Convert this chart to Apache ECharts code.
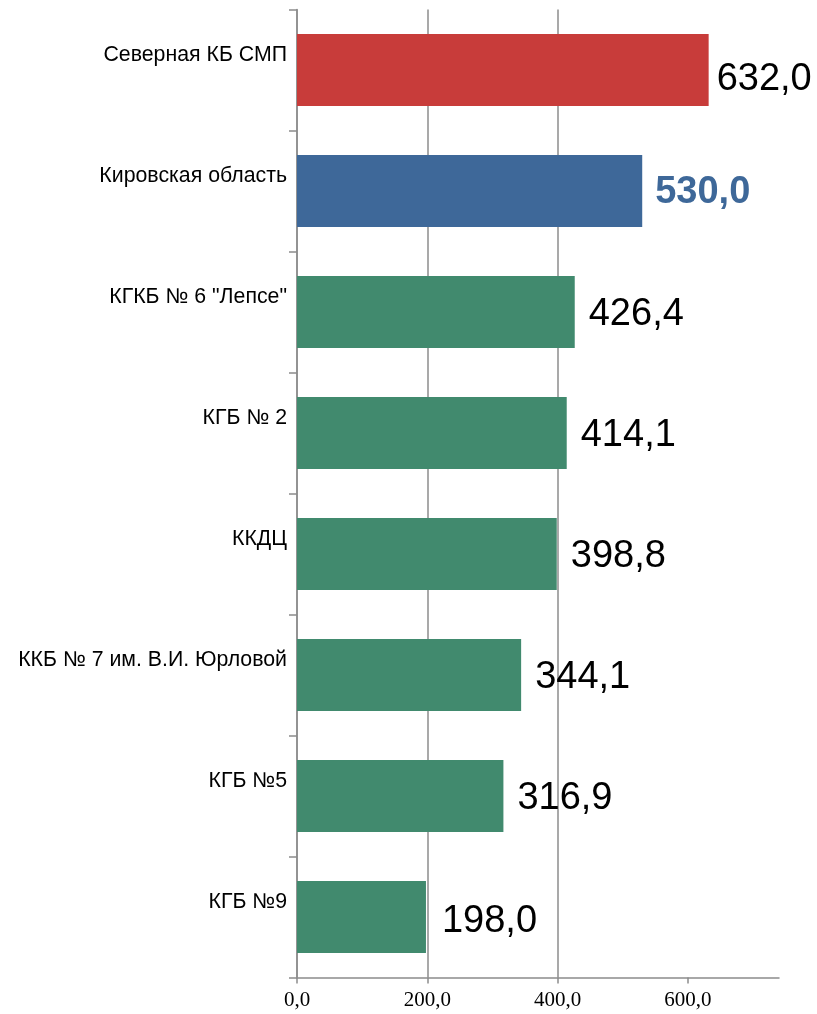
<!DOCTYPE html>
<html><head><meta charset="utf-8">
<script src="https://cdn.jsdelivr.net/npm/echarts@6/dist/echarts.min.js"></script>
<style>html,body{margin:0;padding:0;background:#fff}#c{width:817px;height:1014px}</style>
</head><body><div id="c"></div>
<script>
var categories = ['Северная КБ СМП','Кировская область','КГКБ № 6 "Лепсе"','КГБ № 2','ККДЦ','ККБ № 7 им. В.И. Юрловой','КГБ №5','КГБ №9'];
var values = [632.0, 530.0, 426.4, 414.1, 398.8, 344.1, 316.9, 198.0];
var xTicks = [0, 200, 400, 600];
var colors = ['#C83C3A','#3E6899','#418A6E','#418A6E','#418A6E','#418A6E','#418A6E','#418A6E'];

function fmt(v){ return v.toFixed(1).replace('.', ','); }

var data = values.map(function(v, i){
  var lbl = {color:'#000', fontWeight:'normal', distance: 14, offset: [0, 3]};
  if (i === 0) { lbl.distance = 8; lbl.offset = [0, 10]; }
  if (i === 1) { lbl.color = '#3E6899'; lbl.fontWeight = 'bold'; lbl.distance = 13; lbl.offset = [0, 2]; }
  if (i === 7) { lbl.distance = 16; lbl.offset = [0, 5]; }
  return {value: v, itemStyle: {color: colors[i]}, label: lbl};
});

var chart = echarts.init(document.getElementById('c'));
chart.setOption({
  animation: false,
  grid: {left: 297, right: 38, top: 9.5, bottom: 36.5, containLabel: false},
  xAxis: {
    type: 'value', min: 0, max: 740, interval: 200,
    axisLine: {show: true, lineStyle: {color: '#8c8c8c', width: 1.5}},
    axisTick: {show: true, length: 6, lineStyle: {color: '#8c8c8c', width: 1.5}, customValues: xTicks},
    splitLine: {show: true, showMaxLine: false, lineStyle: {color: '#8c8c8c', width: 1.5}},
    axisLabel: {customValues: xTicks, formatter: function(v){ return fmt(v); }, fontFamily: 'Liberation Serif', fontSize: 21, color: '#000', margin: 12}
  },
  yAxis: {
    type: 'category', data: categories, inverse: true,
    axisLine: {show: true, lineStyle: {color: '#8c8c8c', width: 1.5}},
    axisTick: {show: true, length: 8, lineStyle: {color: '#8c8c8c', width: 1.5}},
    axisLabel: {fontFamily: 'Liberation Sans', fontSize: 21.3, color: '#000', margin: 10, verticalAlign: 'bottom', lineHeight: 30}
  },
  series: [{
    type: 'bar', data: data, barWidth: 72,
    label: {show: true, position: 'right', fontFamily: 'Liberation Sans', fontSize: 38, formatter: function(p){ return fmt(p.value); }}
  }]
});
</script></body></html>
